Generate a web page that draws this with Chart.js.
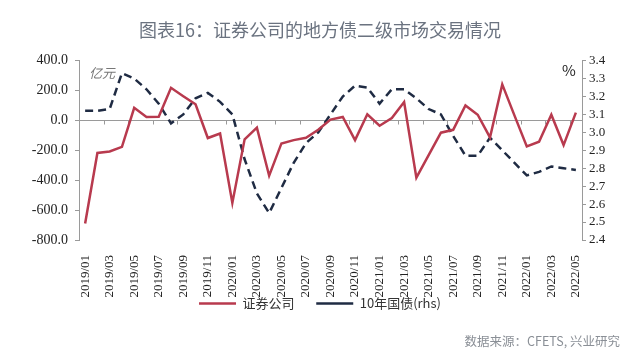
<!DOCTYPE html>
<html>
<head>
<meta charset="utf-8">
<script src="https://cdn.jsdelivr.net/npm/chart.js@4.4.0/dist/chart.umd.min.js"></script>
<style>
html, body { margin: 0; padding: 0; background: #fff; }
#wrap { width: 640px; height: 363px; }
</style>
</head>
<body>
<div id="wrap"><canvas id="c" width="640" height="363"></canvas></div>
<script>
var months = [
    "2019/01", "2019/02", "2019/03", "2019/04", "2019/05", "2019/06", "2019/07", "2019/08", "2019/09", "2019/10", "2019/11", "2019/12",
    "2020/01", "2020/02", "2020/03", "2020/04", "2020/05", "2020/06", "2020/07", "2020/08", "2020/09", "2020/10", "2020/11", "2020/12",
    "2021/01", "2021/02", "2021/03", "2021/04", "2021/05", "2021/06", "2021/07", "2021/08", "2021/09", "2021/10", "2021/11", "2021/12",
    "2022/01", "2022/02", "2022/03", "2022/04", "2022/05"
];
// 证券公司 净买入 (亿元)
var brokers = [
    -690, -218, -208, -177, 84, 23, 25, 218, 162, 108, -118, -88,
    -552, -127, -48, -370, -154, -132, -116, -63, 5, 23, -132, 41,
    -36, 16, 123, -383, -232, -82, -63, 100, 38, -114, 241, 32,
    -174, -143, 38, -165, 52
];
// 10年国债收益率 (%)
var cgb10y = [
    3.12, 3.12, 3.13, 3.33, 3.30, 3.24, 3.16, 3.05, 3.10, 3.19, 3.22, 3.17,
    3.10, 2.85, 2.66, 2.55, 2.69, 2.83, 2.94, 3.00, 3.10, 3.20, 3.26, 3.25,
    3.16, 3.24, 3.24, 3.19, 3.13, 3.10, 2.98, 2.87, 2.87, 2.97, 2.90, 2.83,
    2.76, 2.78, 2.81, 2.80, 2.79
];
var leftTicks = { min: -800, max: 400, step: 200 };
var rightTicks = { min: 2.4, max: 3.4, step: 0.1 };

var serif = '"Liberation Serif", "DejaVu Serif", serif';
var cjk = '"Noto Sans CJK SC", "Noto Sans", sans-serif';

// zero line ticks, unit labels and source note
var decor = {
    id: 'decor',
    beforeDatasetsDraw: function (chart) {
        var ctx = chart.ctx;
        var xs = chart.scales.x, ys = chart.scales.y;
        var y0 = Math.round(ys.getPixelForValue(0)) + 0.5;
        ctx.save();
        ctx.strokeStyle = '#9a9a9a';
        ctx.lineWidth = 1;
        ctx.beginPath();
        for (var k = 2; k < months.length; k += 2) {
            var x = Math.round((xs.getPixelForValue(k - 1) + xs.getPixelForValue(k)) / 2) + 0.5;
            ctx.moveTo(x, y0);
            ctx.lineTo(x, y0 + 4);
        }
        ctx.stroke();
        ctx.restore();
    },
    afterDraw: function (chart) {
        var ctx = chart.ctx, area = chart.chartArea;
        ctx.save();
        ctx.textBaseline = 'middle';
        ctx.fillStyle = '#777';
        ctx.font = 'italic 13px ' + cjk;
        ctx.textAlign = 'left';
        ctx.fillText('亿元', area.left + 10, area.top + 12);
        ctx.fillStyle = '#222';
        ctx.font = '15px ' + cjk;
        ctx.textAlign = 'center';
        ctx.fillText('%', area.right - 13, area.top + 10);
        ctx.fillStyle = '#8a8f96';
        ctx.font = '12.5px ' + cjk;
        ctx.textAlign = 'right';
        ctx.fillText('数据来源：CFETS, 兴业研究', chart.width - 20, chart.height - 22);
        ctx.restore();
    }
};

new Chart(document.getElementById('c').getContext('2d'), {
    type: 'line',
    data: {
        labels: months,
        datasets: [
            {
                label: '证券公司\u3000   ',
                data: brokers,
                yAxisID: 'y',
                borderColor: '#b83a4e',
                backgroundColor: '#b83a4e',
                borderWidth: 2.5,
                pointRadius: 0,
                pointStyle: 'line',
                tension: 0
            },
            {
                label: '10年国债(rhs)',
                data: cgb10y,
                yAxisID: 'y1',
                borderColor: '#1f2b43',
                backgroundColor: '#1f2b43',
                borderWidth: 2.5,
                borderDash: [8, 5],
                pointRadius: 0,
                pointStyle: 'line',
                tension: 0
            }
        ]
    },
    options: {
        responsive: false,
        animation: false,
        layout: { padding: { bottom: 43 } },
        plugins: {
            title: {
                display: true,
                text: '图表16：证券公司的地方债二级市场交易情况',
                color: '#6b7380',
                font: { family: cjk, size: 18, weight: 'normal' },
                padding: { top: 19, bottom: 20 }
            },
            legend: {
                position: 'bottom',
                labels: {
                    usePointStyle: true,
                    pointStyleWidth: 37,
                    boxHeight: 13,
                    padding: 0,
                    color: '#333',
                    font: { family: cjk, size: 13 }
                }
            },
            tooltip: { enabled: false }
        },
        scales: {
            x: {
                offset: true,
                grid: { display: false },
                border: { display: false },
                ticks: {
                    autoSkip: false,
                    maxRotation: 90,
                    minRotation: 90,
                    padding: 7,
                    color: '#222',
                    font: { family: serif, size: 13 },
                    callback: function (v, i) { return i % 2 === 0 ? months[i] : ''; }
                },
                afterFit: function (s) { s.height = 57; }
            },
            y: {
                position: 'left',
                min: leftTicks.min,
                max: leftTicks.max,
                grid: {
                    color: function (c) { return c.tick && c.tick.value === 0 ? '#9a9a9a' : 'rgba(0,0,0,0)'; },
                    tickColor: '#9a9a9a',
                    tickLength: 4
                },
                border: { display: true, color: '#9a9a9a' },
                ticks: {
                    stepSize: leftTicks.step,
                    autoSkip: false,
                    padding: 7,
                    color: '#222',
                    font: { family: serif, size: 14 },
                    callback: function (v) { return v.toFixed(1); }
                },
                afterFit: function (s) { s.width = 79; }
            },
            y1: {
                position: 'right',
                min: rightTicks.min,
                max: rightTicks.max,
                grid: { drawOnChartArea: false, color: '#9a9a9a', tickLength: 4 },
                border: { display: true, color: '#9a9a9a' },
                ticks: {
                    stepSize: rightTicks.step,
                    autoSkip: false,
                    padding: 3,
                    color: '#222',
                    font: { family: serif, size: 13 },
                    callback: function (v) { return v.toFixed(1); }
                },
                afterFit: function (s) { s.width = 58; }
            }
        }
    },
    plugins: [decor]
});
</script>
</body>
</html>
